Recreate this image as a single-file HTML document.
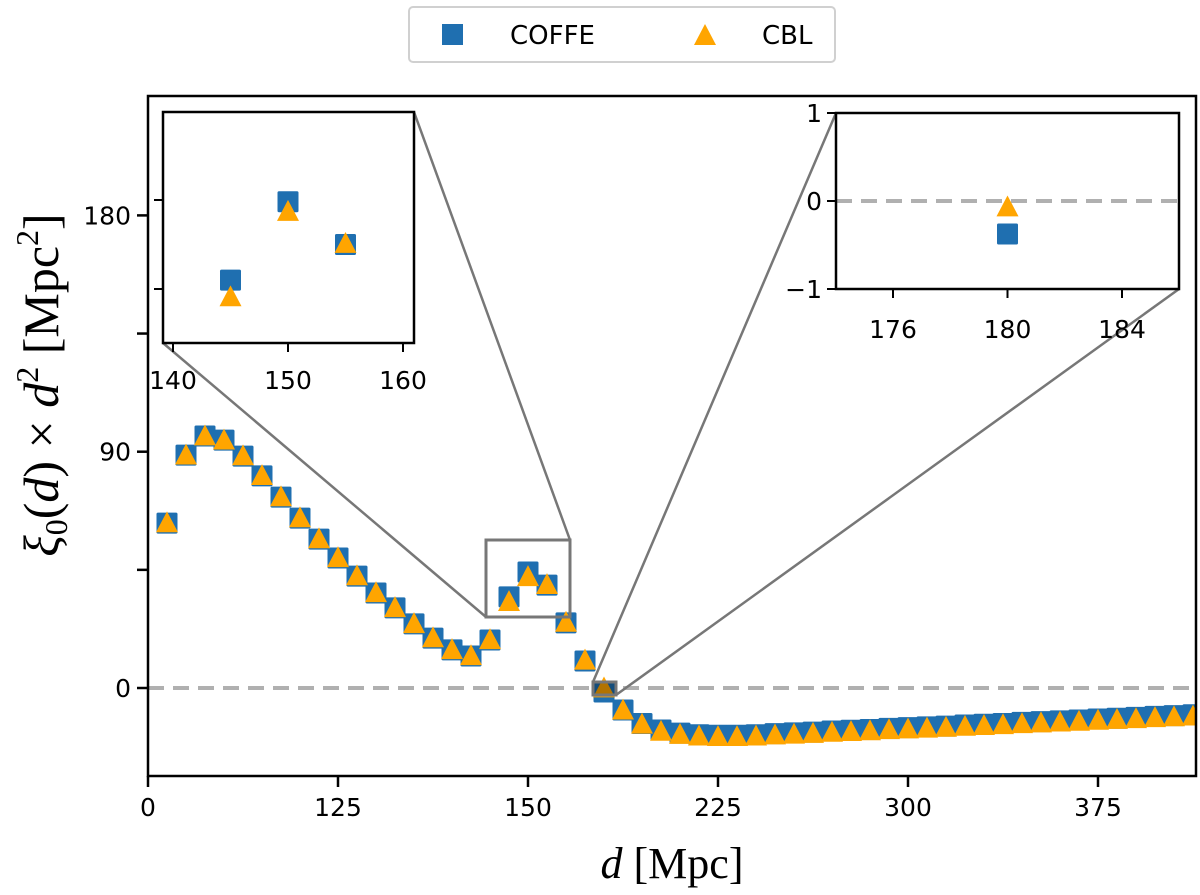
<!DOCTYPE html>
<html><head><meta charset="utf-8"><style>
html,body{margin:0;padding:0;background:#fff;}
svg{display:block;}
.tick{font-family:"DejaVu Sans","Liberation Sans",sans-serif;font-size:25px;fill:#000;}
.lab{font-family:"Liberation Serif","DejaVu Serif",serif;font-size:44px;fill:#000;}
</style></head><body>
<svg id="chart" width="1200" height="895" viewBox="0 0 1200 895" xmlns="http://www.w3.org/2000/svg">
<defs>
<clipPath id="mainclip"><rect x="148" y="96" width="1048" height="680"/></clipPath>
</defs>
<g id="main"></g>
<g id="zoomlines"></g>
<g id="inset1"></g>
<g id="inset2"></g>
<g>
  <rect x="409" y="7" width="426" height="55" rx="4" fill="#fff" stroke="#d0d0d0" stroke-width="2"/>
  <rect x="442" y="24" width="21" height="21" fill="#1f6fb0"/>
  <text x="510" y="44" class="tick" style="font-size:26px">COFFE</text>
  <polygon points="705,24 716,45 694,45" fill="#ffa500"/>
  <text x="762" y="44" class="tick" style="font-size:26px">CBL</text>
</g>
<text x="672" y="878" text-anchor="middle" class="lab"><tspan font-style="italic">d</tspan> [Mpc]</text>
<text transform="translate(58,385) rotate(-90)" text-anchor="middle" class="lab" style="font-size:50px"><tspan font-style="italic">ξ</tspan><tspan font-size="32" dy="9">0</tspan><tspan dy="-9">(</tspan><tspan font-style="italic">d</tspan>) × <tspan font-style="italic">d</tspan><tspan font-size="32" dy="-20">2</tspan><tspan dy="20"> [Mpc</tspan><tspan font-size="32" dy="-20">2</tspan><tspan dy="20">]</tspan></text>
</svg>
<script>
// ---- main data ----
const distances = [7.5,15,22.5,30,37.5,45,52.5,60,67.5,75,82.5,90,97.5,105,112.5,120,127.5,135,142.5,150,157.5,165,172.5,180,187.5,195,202.5,210,217.5,225,232.5,240,247.5,255,262.5,270,277.5,285,292.5,300,307.5,315,322.5,330,337.5,345,352.5,360,367.5,375,382.5,390,397.5,405,412.5];
const coffeValues = [62.8,88.7,96,94.4,88.3,80.8,72.7,64.7,56.7,49.5,42.6,36.2,30.5,24.4,19,14.5,12.2,18.3,34.7,44.2,39.2,24.8,10.3,-1.5,-8.4,-13.5,-16,-17.2,-17.8,-18,-18,-17.8,-17.4,-17.1,-16.8,-16.4,-16.1,-15.8,-15.4,-15.1,-14.8,-14.5,-14.1,-13.8,-13.5,-13.1,-12.8,-12.5,-12.2,-11.8,-11.5,-11.2,-10.8,-10.5,-10.2];
const cblValues = [62.5,88.3,95.6,94,88,80.5,72.4,64.4,56.4,49.2,42.3,35.9,30.2,24.1,18.7,14.2,11.9,18,32.5,42,39,24.6,10.2,-0.4,-8.8,-14.2,-16.9,-18.1,-18.7,-18.9,-18.9,-18.7,-18.3,-18,-17.7,-17.3,-17,-16.7,-16.3,-16,-15.7,-15.4,-15,-14.7,-14.4,-14,-13.7,-13.4,-13.1,-12.7,-12.4,-12.1,-11.7,-11.4,-11.1];
const xTickValues = [0,75,150,225,300,375];
const xTickLabels = ["0","125","150","225","300","375"];
const yTickValues = [0,45,90,135,180];
const yTickLabels = ["0","","90","","180"];
// ---- inset data ----
const inset1Dist = [145,150,155];
const inset1Coffe = [40.5,44.9,42.5];
const inset1Cbl = [39.5,44.3,42.5];
const inset1XTicks = [140,150,160];
const inset1YTicks = [40,45];
const inset2Dist = [180];
const inset2Coffe = [-0.375];
const inset2Cbl = [-0.08];
const inset2XTicks = [176,180,184];
const inset2YTicks = [-1,0,1];

const NS="http://www.w3.org/2000/svg";
function mk(parent,tag,attrs){const e=document.createElementNS(NS,tag);for(const k in attrs)e.setAttribute(k,attrs[k]);parent.appendChild(e);return e;}
const BLUE="#1f6fb0", ORANGE="#ffa500";
function lin(d0,d1,p0,p1){return v=>p0+(v-d0)*(p1-p0)/(d1-d0);}

const X=lin(0,75,148,338), Y=lin(0,90,688,451.7);
const main=document.getElementById('main');
const zl=mk(main,'line',{x1:148,x2:1196,y1:Y(0),y2:Y(0),stroke:'#b0b0b0','stroke-width':4,'stroke-dasharray':'16,9'});


const mg=mk(main,'g',{'clip-path':'url(#mainclip)'});
function square(g,cx,cy,s){return mk(g,'rect',{x:cx-s/2,y:cy-s/2,width:s,height:s,rx:1.5,fill:BLUE});}
function tri(g,cx,cy,s){const h=s*0.95;return mk(g,'polygon',{points:`${cx},${cy-h*0.6} ${cx+s/2},${cy+h*0.4} ${cx-s/2},${cy+h*0.4}`,fill:ORANGE});}
distances.forEach((d,i)=>{
  const r=square(mg,X(d),Y(coffeValues[i]),21);
  
  
});
distances.forEach((d,i)=>{
  const t=tri(mg,X(d),Y(cblValues[i]),22);
  
  
});
const frame=mk(main,'rect',{x:148,y:96,width:1048,height:680,fill:'none',stroke:'#000','stroke-width':2.5});


xTickValues.forEach((v,i)=>{
  mk(main,'line',{x1:X(v),x2:X(v),y1:776,y2:787,stroke:'#000','stroke-width':2.5});
  const t=mk(main,'text',{x:X(v),y:816,'text-anchor':'middle',class:'tick'});t.textContent=xTickLabels[i];
  
  
});
yTickValues.forEach((v,i)=>{
  mk(main,'line',{x1:137,x2:148,y1:Y(v),y2:Y(v),stroke:'#000','stroke-width':2.5});
  if(yTickLabels[i]){const t=mk(main,'text',{x:131,y:Y(v)+9,'text-anchor':'end',class:'tick'});t.textContent=yTickLabels[i];
  
  }
});

const zg=document.getElementById('zoomlines');
const zb1=mk(zg,'rect',{x:486,y:540,width:84,height:77,fill:'none',stroke:'#777','stroke-width':3});


mk(zg,'line',{x1:414,y1:112,x2:570,y2:540,stroke:'#777','stroke-width':2.5});
mk(zg,'line',{x1:163,y1:343,x2:486,y2:617,stroke:'#777','stroke-width':2.5});
const zb2=mk(zg,'rect',{x:593,y:682,width:23,height:13,fill:'rgba(0,0,0,0.3)',stroke:'#777','stroke-width':3});


mk(zg,'line',{x1:836,y1:113,x2:593,y2:682,stroke:'#777','stroke-width':2.5});
mk(zg,'line',{x1:1179,y1:289,x2:616,y2:695,stroke:'#777','stroke-width':2.5});

const i1=document.getElementById('inset1');
const X1=lin(140,160,173,403), Y1=lin(40,45,289,200);
mk(i1,'rect',{x:163,y:112,width:251,height:231,fill:'#fff'});
inset1Dist.forEach((d,i)=>{const r=square(i1,X1(d),Y1(inset1Coffe[i]),21);
  
  });
inset1Dist.forEach((d,i)=>{const t=tri(i1,X1(d),Y1(inset1Cbl[i]),22);
  
  });
mk(i1,'rect',{x:163,y:112,width:251,height:231,fill:'none',stroke:'#000','stroke-width':2.5});
inset1XTicks.forEach(v=>{mk(i1,'line',{x1:X1(v),x2:X1(v),y1:343,y2:352,stroke:'#000','stroke-width':2});
  const t=mk(i1,'text',{x:X1(v),y:389,'text-anchor':'middle',class:'tick'});t.textContent=v;
  
  });
inset1YTicks.forEach(v=>{mk(i1,'line',{x1:154,x2:163,y1:Y1(v),y2:Y1(v),stroke:'#000','stroke-width':2});});

const i2=document.getElementById('inset2');
const X2=lin(176,184,893,1122), Y2=lin(-1,1,289,113);
mk(i2,'rect',{x:836,y:113,width:343,height:176,fill:'#fff'});
mk(i2,'line',{x1:836,x2:1179,y1:Y2(0),y2:Y2(0),stroke:'#b0b0b0','stroke-width':4,'stroke-dasharray':'16,9'});
inset2Dist.forEach((d,i)=>{const r=square(i2,X2(d),Y2(inset2Coffe[i]),21);
  
  });
inset2Dist.forEach((d,i)=>{const t=tri(i2,X2(d),Y2(inset2Cbl[i]),22);
  
  });
mk(i2,'rect',{x:836,y:113,width:343,height:176,fill:'none',stroke:'#000','stroke-width':2.5});
inset2XTicks.forEach(v=>{mk(i2,'line',{x1:X2(v),x2:X2(v),y1:289,y2:298,stroke:'#000','stroke-width':2});
  const t=mk(i2,'text',{x:X2(v),y:338,'text-anchor':'middle',class:'tick'});t.textContent=v;
  
  });
inset2YTicks.forEach(v=>{mk(i2,'line',{x1:827,x2:836,y1:Y2(v),y2:Y2(v),stroke:'#000','stroke-width':2});
  const t=mk(i2,'text',{x:822,y:Y2(v)+9,'text-anchor':'end',class:'tick'});t.textContent=v<0?'\u2212'+Math.abs(v):v;
  
  });
</script>
</body></html>
